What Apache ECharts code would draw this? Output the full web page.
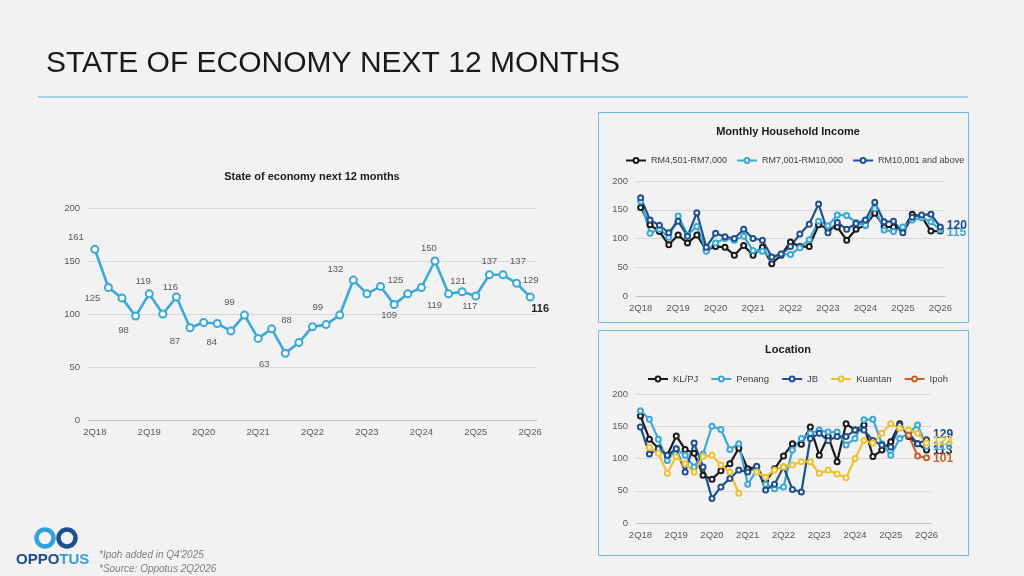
<!DOCTYPE html>
<html>
<head>
<meta charset="utf-8">
<script src="https://cdn.jsdelivr.net/npm/echarts@6/dist/echarts.min.js"></script>
<style>
  html, body { margin: 0; padding: 0; background: #f2f2f2; }
  #chart { width: 1024px; height: 576px; }
</style>
</head>
<body>
<div id="chart"></div>
<script>
(function () {
    'use strict';

    var quarters = ['2Q18', '3Q18', '4Q18', '1Q19', '2Q19', '3Q19', '4Q19', '1Q20', '2Q20', '3Q20', '4Q20',
        '1Q21', '2Q21', '3Q21', '4Q21', '1Q22', '2Q22', '3Q22', '4Q22', '1Q23', '2Q23', '3Q23', '4Q23',
        '1Q24', '2Q24', '3Q24', '4Q24', '1Q25', '2Q25', '3Q25', '4Q25', '1Q26', '2Q26'];
    var yTicks = [0, 50, 100, 150, 200];

    // main index
    var economy = [161, 125, 115, 98, 119, 100, 116, 87, 92, 91, 84, 99, 77, 86, 63, 73, 88,
        90, 99, 132, 119, 126, 109, 119, 125, 150, 119, 121, 117, 137, 137, 129, 116];

    // monthly household income
    var incomeLow = [154, 124, 112, 89, 106, 92, 106, 80, 86, 85, 71, 88, 71, 85, 56, 71, 94,
        86, 86, 124, 117, 120, 97, 116, 123, 144, 120, 120, 115, 142, 138, 113, 113];
    var incomeMid = [165, 109, 116, 102, 139, 106, 121, 78, 92, 100, 97, 104, 79, 78, 66, 73, 72,
        84, 98, 130, 122, 141, 140, 128, 123, 152, 115, 112, 120, 132, 136, 129, 115];
    var incomeHigh = [171, 132, 123, 110, 130, 104, 145, 85, 109, 103, 100, 116, 100, 97, 68, 73, 86,
        108, 125, 160, 110, 128, 116, 126, 132, 163, 129, 130, 110, 137, 141, 142, 120];

    // location
    var klpj = [166, 130, 116, 105, 135, 114, 108, 74, 68, 81, 92, 116, 84, 87, 64, 84, 104,
        123, 122, 149, 105, 134, 95, 154, 144, 152, 103, 113, 126, 154, 134, 123, 113];
    var penang = [174, 161, 130, 97, 115, 105, 87, 107, 150, 145, 114, 123, 60, 82, 60, 53, 56,
        113, 131, 139, 144, 141, 141, 121, 131, 160, 161, 123, 105, 131, 139, 152, 119];
    var jb = [149, 107, 115, 105, 115, 79, 124, 87, 38, 56, 69, 82, 79, 88, 51, 60, 87,
        52, 48, 131, 139, 128, 134, 134, 144, 144, 128, 121, 118, 152, 139, 123, 129];
    var kuantan = [null, 117, 108, 77, 103, 92, 79, 103, 105, 90, 79, 46, null, 79, 71, 82, 87,
        90, 95, 95, 77, 82, 76, 70, 100, 128, 124, 139, 154, 147, 144, 139, 124];
    var ipohStart = '4Q25';
    var ipoh = [136, 104, 101];

    // which points of the main line carry a label, and where the label sits (px from the point)
    var labelNudge = {
        0: [-19, -12], 1: [-16, 11], 3: [-12, 14], 4: [-6, -12], 6: [-6, -10], 7: [-15, 14],
        10: [-19, 11], 11: [-15, -13], 14: [-21, 11], 16: [-26, -6], 18: [-22, -8], 19: [-18, -11],
        22: [-5, 11], 24: [-26, -7], 25: [-6, -13], 26: [-14, 12], 27: [-4, -10], 28: [-6, 10],
        29: [0, -13], 30: [15, -13], 31: [14, -3], 32: [10, 12]
    };

    var FONT = '"Liberation Sans", Arial, sans-serif';
    var GREY = '#595959';
    var LIGHT = '#3aa8d8';
    var DARK = '#1f4f8f';

    var ipohSeries = quarters.map(function (q, i) {
        var k = i - quarters.indexOf(ipohStart);
        return k >= 0 && k < ipoh.length ? ipoh[k] : null;
    });

    var economyData = economy.map(function (v, i) {
        var nudge = labelNudge[i];
        if (!nudge) return v;
        var last = i === economy.length - 1;
        return {
            value: v,
            label: {
                show: true, position: 'inside', offset: nudge,
                fontSize: last ? 11 : 9.5,
                fontWeight: last ? 'bold' : 'normal',
                color: last ? '#262626' : GREY
            }
        };
    });

    function endLabel(arr, color, dy) {
        return arr.map(function (v, i) {
            if (i !== arr.length - 1) return v;
            return {
                value: v,
                label: {
                    show: true, position: 'right', distance: 3, offset: [0, dy || 0],
                    fontSize: 12, fontWeight: 'bold', color: color, fontFamily: FONT
                }
            };
        });
    }

    function xAxis(idx, size) {
        return {
            type: 'category', gridIndex: idx, data: quarters, boundaryGap: true,
            axisTick: { show: false },
            axisLine: { lineStyle: { color: '#bfbfbf' } },
            axisLabel: { interval: 3, color: GREY, fontSize: size, fontFamily: FONT, margin: 7 }
        };
    }

    function yAxis(idx, size) {
        return {
            type: 'value', gridIndex: idx, min: yTicks[0], max: yTicks[yTicks.length - 1],
            interval: yTicks[1] - yTicks[0],
            axisLine: { show: false }, axisTick: { show: false },
            splitLine: { lineStyle: { color: '#d9d9d9' } },
            axisLabel: { color: GREY, fontSize: size, fontFamily: FONT, margin: 8 }
        };
    }

    function small(name, data, color, gi) {
        return {
            name: name, type: 'line', xAxisIndex: gi, yAxisIndex: gi, data: data,
            symbol: 'emptyCircle', symbolSize: 5,
            lineStyle: { color: color, width: 2.2 },
            itemStyle: { color: color, borderColor: color, borderWidth: 1.2 },
            connectNulls: false, animation: false
        };
    }

    var chart = echarts.init(document.getElementById('chart'));

    chart.setOption({
        backgroundColor: '#f2f2f2',
        textStyle: { fontFamily: FONT },
        animation: false,
        title: [
            { text: 'State of economy next 12 months', left: 307, textAlign: 'center', top: 166,
              textStyle: { fontSize: 11, fontWeight: 'bold', color: '#1a1a1a', fontFamily: FONT } },
            { text: 'Monthly Household Income', left: 783, textAlign: 'center', top: 121,
              textStyle: { fontSize: 11, fontWeight: 'bold', color: '#1a1a1a', fontFamily: FONT } },
            { text: 'Location', left: 783, textAlign: 'center', top: 339,
              textStyle: { fontSize: 11, fontWeight: 'bold', color: '#1a1a1a', fontFamily: FONT } }
        ],
        legend: [
            { data: ['RM4,501-RM7,000', 'RM7,001-RM10,000', 'RM10,001 and above'],
              left: 620, top: 151, itemWidth: 20, itemHeight: 6, itemGap: 9,
              textStyle: { fontSize: 9, color: '#404040', fontFamily: FONT } },
            { data: ['KL/PJ', 'Penang', 'JB', 'Kuantan', 'Ipoh'],
              left: 642, top: 369, itemWidth: 20, itemHeight: 6, itemGap: 12,
              textStyle: { fontSize: 9.5, color: '#404040', fontFamily: FONT } }
        ],
        grid: [
            { left: 88, width: 449, top: 208, height: 212 },
            { left: 636, width: 309, top: 181, height: 115 },
            { left: 636, width: 295, top: 394, height: 129 }
        ],
        xAxis: [xAxis(0, 9.5), xAxis(1, 9.5), xAxis(2, 9.5)],
        yAxis: [yAxis(0, 9.5), yAxis(1, 9.5), yAxis(2, 9.5)],
        series: [
            {
                name: 'State of economy', type: 'line', xAxisIndex: 0, yAxisIndex: 0,
                data: economyData, symbol: 'emptyCircle', symbolSize: 7,
                lineStyle: { color: LIGHT, width: 2.6 },
                itemStyle: { color: LIGHT, borderColor: LIGHT, borderWidth: 1.2 }
            },
            small('RM4,501-RM7,000', incomeLow, '#1a1a1a', 1),
            small('RM7,001-RM10,000', endLabel(incomeMid, LIGHT, 3), LIGHT, 1),
            small('RM10,001 and above', endLabel(incomeHigh, DARK, -1), DARK, 1),
            small('KL/PJ', endLabel(klpj, '#1a1a1a', 1), '#1a1a1a', 2),
            small('Penang', endLabel(penang, LIGHT), LIGHT, 2),
            small('JB', endLabel(jb, DARK, -5), DARK, 2),
            small('Kuantan', endLabel(kuantan, '#f2c12e', -1), '#f2c12e', 2),
            small('Ipoh', endLabel(ipohSeries, '#c8642a', 1), '#c8642a', 2)
        ],
        graphic: [
            { type: 'text', left: 46, top: 49,
              style: { text: 'STATE OF ECONOMY NEXT 12 MONTHS', fill: '#1a1a1a',
                       font: '30px ' + FONT } },
            { type: 'line', shape: { x1: 38, y1: 97, x2: 968, y2: 97 },
              style: { stroke: '#5fb5dc', lineWidth: 1 } },
            { type: 'rect', shape: { x: 598.5, y: 112.5, width: 370, height: 210 },
              style: { fill: 'none', stroke: '#6fbde0', lineWidth: 1 } },
            { type: 'rect', shape: { x: 598.5, y: 330.5, width: 370, height: 225 },
              style: { fill: 'none', stroke: '#6fbde0', lineWidth: 1 } },
            { type: 'circle', shape: { cx: 45, cy: 538, r: 8.5 },
              style: { fill: 'none', stroke: '#2fa2dc', lineWidth: 4.5 } },
            { type: 'circle', shape: { cx: 67, cy: 538, r: 8.5 },
              style: { fill: 'none', stroke: '#1b4f8f', lineWidth: 4.5 } },
            { type: 'text', left: 16, top: 552,
              style: { text: '{a|OPPO}{b|TUS}',
                       rich: { a: { fill: '#1b4f8f', font: 'bold 15px ' + FONT },
                               b: { fill: '#2fa2dc', font: 'bold 15px ' + FONT } } } },
            { type: 'text', left: 99, top: 550,
              style: { text: '*Ipoh added in Q4\'2025', fill: '#7f7f7f',
                       font: 'italic 10px ' + FONT } },
            { type: 'text', left: 99, top: 564,
              style: { text: '*Source: Oppotus 2Q2026', fill: '#7f7f7f',
                       font: 'italic 10px ' + FONT } }
        ]
    });

    window.addEventListener('resize', function () {
        chart.resize();
    });
})();
</script>
</body>
</html>
